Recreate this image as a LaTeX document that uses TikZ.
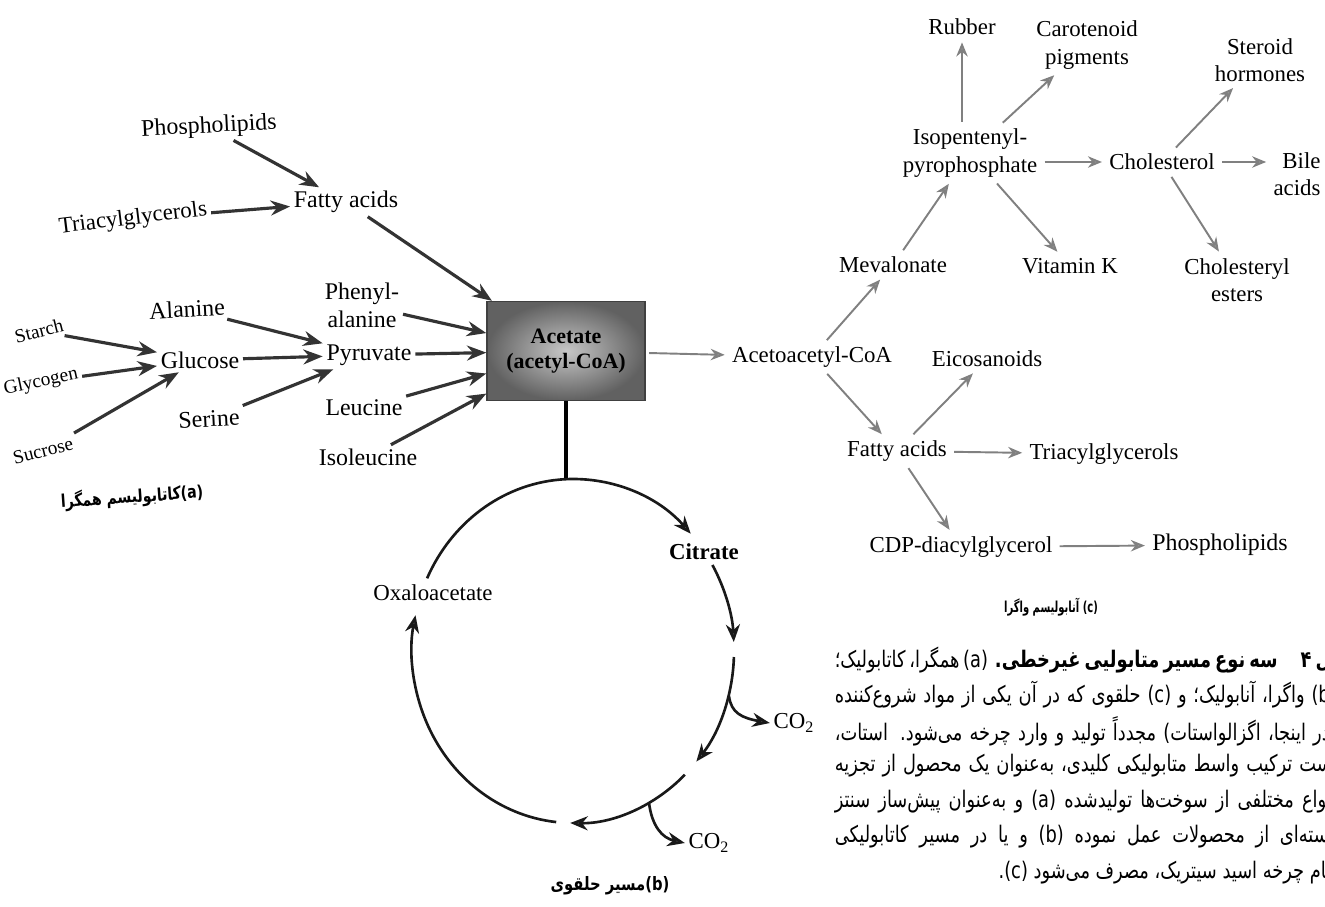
\documentclass[tikz,border=0pt]{standalone}
\usepackage{fontspec}
\setmainfont{Liberation Serif}
\newfontfamily\farsicap[Script=Arabic,FakeStretch=0.78]{DejaVu Sans}
\newfontfamily\farsinarrow[Script=Arabic,FakeStretch=0.8]{DejaVu Sans}
\newfontfamily\farsitight[Script=Arabic,FakeStretch=0.66]{DejaVu Sans}
\TeXXeTstate=1
\usetikzlibrary{arrows.meta,positioning}

\tikzset{
  metab/.style={font=\fontsize{13}{15.5}\selectfont, inner sep=2pt, align=center},
  bigmetab/.style={metab, font=\fontsize{13.6}{16}\selectfont},
  smallmetab/.style={metab, font=\fontsize{11}{13}\selectfont},
  acetatebox/.style={draw=black!75, line width=0.8pt, inner color=black!22, outer color=black!62,
    minimum width=3.16cm, minimum height=1.98cm, align=center, font=\bfseries\fontsize{12.5}{14.5}\selectfont},
  catarrow/.style={line width=1.8pt, draw=black!80, -{Stealth[length=11pt,width=8.5pt,fill=black!50]}},
  anaarrow/.style={line width=1.1pt, draw=black!50, shorten <=2pt, shorten >=2pt,
    -{Stealth[length=8pt,width=6.5pt,fill=black!40]}},
  cycarrow/.style={line width=1.5pt, draw=black!90, -{Stealth[length=10pt,width=8pt,fill=black!50]}},
  fatitle/.style={font=\farsinarrow\bfseries\fontsize{10}{12}\selectfont, inner sep=1pt},
  capline/.style={anchor=east, inner sep=0pt, font=\farsicap\fontsize{13}{15}\selectfont},
}

\begin{document}
\begin{tikzpicture}[x=0.02cm, y=-0.02cm]
        \useasboundingbox (0,0) rectangle (1325,906);
        \clip (0,0) rectangle (1325,906);

        % (a) converging
        \node[bigmetab, rotate=3] (phosa) at (209,127) {Phospholipids};
        \node[bigmetab] (fattya) at (346,202) {Fatty acids};
        \node[metab, rotate=7] (triaa) at (133,219) {Triacylglycerols};
        \node[bigmetab, rotate=3] (alanine) at (187,309) {Alanine};
        \node[bigmetab] (phenyl) at (362,305) {Phenyl-\\alanine};
        \node[smallmetab, rotate=14] (starch) at (39,331) {Starch};
        \node[bigmetab] (glucose) at (200,360) {Glucose};
        \node[bigmetab] (pyruvate) at (369,355) {Pyruvate};
        \node[smallmetab, rotate=12] (glycogen) at (41,382) {Glycogen};
        \node[bigmetab, rotate=3] (serine) at (209,419) {Serine};
        \node[bigmetab] (leucine) at (364,408) {Leucine};
        \node[smallmetab, rotate=14] (sucrose) at (43,451) {Sucrose};
        \node[bigmetab] (isoleu) at (368,457) {Isoleucine};
        \node[acetatebox] (acetate) at (566,351) {Acetate\\(acetyl-CoA)};

        \foreach \src/\dst in {phosa/fattya, triaa/fattya, fattya/acetate, phenyl/acetate,
            pyruvate/acetate, leucine/acetate, isoleu/acetate, alanine/pyruvate,
            glucose/pyruvate, serine/pyruvate, starch/glucose, glycogen/glucose, sucrose/glucose}
            \draw[catarrow] (\src) -- (\dst);

        \node[fatitle, rotate=4] (capa) at (132,497)
            {\beginR\beginL(a)\endL{}کاتابولیسم همگرا\endR};

        % (b) cyclic
        \coordinate (cyc) at (573,651);
        \coordinate (cyctop) at (566,479);
        \node[metab] (citrate) at (704,552) {\bfseries Citrate};
        \node[metab] (oxalo) at (433,593) {Oxaloacetate};
        \node[metab] (co2a) at (794,723) {CO\textsubscript{2}};
        \node[metab] (co2b) at (709,843) {CO\textsubscript{2}};
        \draw[line width=1.8pt] (acetate.south) -- (cyctop);

        \foreach \from/\to in {205/317, 330/357, 2/40, 46/91, 96/192}
            \draw[cycarrow] (cyc) ++(\from:161 and 172) arc[start angle=\from, end angle=\to, x radius=161, y radius=172];

        \coordinate (br1) at (729,696);
        \coordinate (br2) at (649,803);
        \draw[cycarrow] (br1) .. controls (731,713) and (742,718) .. (co2a.west);
        \draw[cycarrow] (br2) .. controls (652,826) and (662,838) .. (co2b.west);

        \node[fatitle, font=\farsinarrow\bfseries\fontsize{10.5}{12}\selectfont] (capb) at (610,886)
            {\beginR\beginL(b)\endL{}مسیر حلقوی\endR};

        % (c) diverging
        \node[metab] (acetoa) at (812,357) {Acetoacetyl-CoA};
        \node[metab] (meval) at (893,265) {Mevalonate};
        \node[metab] (fattyc) at (897,451) {Fatty acids};
        \node[metab] (eicos) at (987,359) {Eicosanoids};
        \node[metab] (triac) at (1104,454) {Triacylglycerols};
        \node[metab] (cdp) at (961,547) {CDP-diacylglycerol};
        \node[bigmetab] (phosc) at (1220,545) {Phospholipids};
        \node[metab] (ipp) at (970,153) {Isopentenyl-\\pyrophosphate};
        \node[metab] (rubber) at (962,27) {Rubber};
        \node[metab] (carot) at (1087,45) {Carotenoid\\pigments};
        \node[metab] (chol) at (1162,162) {Cholesterol};
        \node[metab] (vitk) at (1070,266) {Vitamin K};
        \node[metab] (steroid) at (1260,60) {Steroid\\hormones};
        \node[metab, align=right] (bile) at (1297,174) {Bile\\acids};
        \node[metab] (cholest) at (1237,280) {Cholesteryl\\esters};

        \foreach \src/\dst in {acetate/acetoa, acetoa/meval, acetoa/fattyc, fattyc/eicos,
            fattyc/triac, fattyc/cdp, cdp/phosc, meval/ipp, ipp/carot,
            ipp/vitk, chol/steroid, chol/cholest}
            \draw[anaarrow] (\src) -- (\dst);
        \draw[anaarrow] (ipp.north -| rubber) -- (rubber);
        \draw[anaarrow] (ipp.east |- chol) -- (chol);
        \draw[anaarrow] (chol) -- (chol -| bile.west);

        \node[fatitle, font=\farsitight\bfseries\fontsize{8.6}{10}\selectfont] (capc) at (1051,607)
            {\beginR\beginL(c)\endL{} آنابولیسم واگرا\endR};

        % figure caption
        \node[capline] (row1) at (1337,660) {\makebox[10.04cm][s]{\beginR{\bfseries شکل ۴\quad سه نوع مسیر متابولیی غیرخطی.} \beginL(a)\endL{} همگرا، کاتابولیک؛\endR}};
        \node[capline] (row2) at (1337,695) {\makebox[10.04cm][s]{\beginR\beginL(b)\endL{} واگرا، آنابولیک؛ و \beginL(c)\endL{} حلقوی که در آن یکی از مواد شروع‌کننده\endR}};
        \node[capline] (row3) at (1337,731) {\makebox[10.04cm][s]{\beginR(در اینجا، اگزالواستات) مجدداً تولید و وارد چرخه می‌شود. استات،\endR}};
        \node[capline] (row4) at (1337,766) {\makebox[10.04cm][s]{\beginR است ترکیب واسط متابولیکی کلیدی، به‌عنوان یک محصول از تجزیه\endR}};
        \node[capline] (row5) at (1337,802) {\makebox[10.04cm][s]{\beginR انواع مختلفی از سوخت‌ها تولیدشده \beginL(a)\endL{} و به‌عنوان پیش‌ساز سنتز\endR}};
        \node[capline] (row6) at (1337,837) {\makebox[10.04cm][s]{\beginR دسته‌ای از محصولات عمل نموده \beginL(b)\endL{} و یا در مسیر کاتابولیکی\endR}};
        \node[capline] (row7) at (1337,873) {\beginR بنام چرخه اسید سیتریک، مصرف می‌شود \beginL(c)\endL{}.\endR};
    \end{tikzpicture}
\end{document}
